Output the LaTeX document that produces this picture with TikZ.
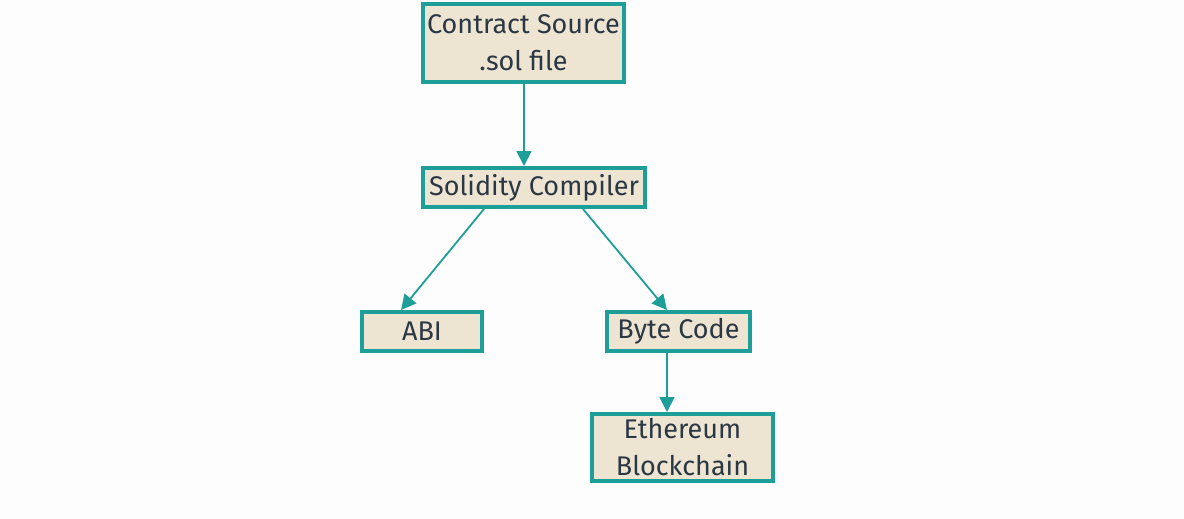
\documentclass[tikz,border=0pt]{standalone}
\usepackage{fontspec}
\setmainfont{Fira Sans}
\usetikzlibrary{arrows.meta,calc}
\definecolor{teal1}{HTML}{1E9E99}
\definecolor{beige1}{HTML}{EDE4D2}
\definecolor{ink}{HTML}{2B3844}
\definecolor{bg}{HTML}{FDFDFD}
\begin{document}
\begin{tikzpicture}[x=1pt,y=-1pt,
  box/.style={draw=teal1,fill=beige1,line width=4pt,inner sep=0pt,
    align=center,text=ink,font=\fontsize{27}{37}\selectfont},
  conn/.style={draw=teal1,line width=1.8pt,-{Triangle[length=15pt,width=15pt]}}]
\fill[bg] (0,0) rectangle (1184,519);
\useasboundingbox (0,0) rectangle (1184,519);
\node[box,minimum width=201pt,minimum height=78pt] (src) at (523.5,43) {Contract Source\\.sol file};
\node[box,minimum width=222pt,minimum height=39pt] (comp) at (534,187.5) {Solidity Compiler};
\node[box,minimum width=120pt,minimum height=39pt] (abi) at (422,331.5) {ABI};
\node[box,minimum width=143pt,minimum height=39pt] (byte) at (678.5,331.5) {Byte Code};
\node[box,minimum width=181pt,minimum height=67pt] (eth) at (682.5,447.5) {Ethereum\\Blockchain};
\draw[conn] ($(src.south)+(0.5,0)$) -- ($(comp.north)+(-10,0)$);
\draw[conn] ($(comp.south)+(-50,0)$) -- ($(abi.north)+(-21,0)$);
\draw[conn] ($(comp.south)+(49,0)$) -- ($(byte.north)+(-11.5,0)$);
\draw[conn] ($(byte.south)+(-11.5,0)$) -- ($(eth.north)+(-15.5,0)$);
\end{tikzpicture}
\end{document}
